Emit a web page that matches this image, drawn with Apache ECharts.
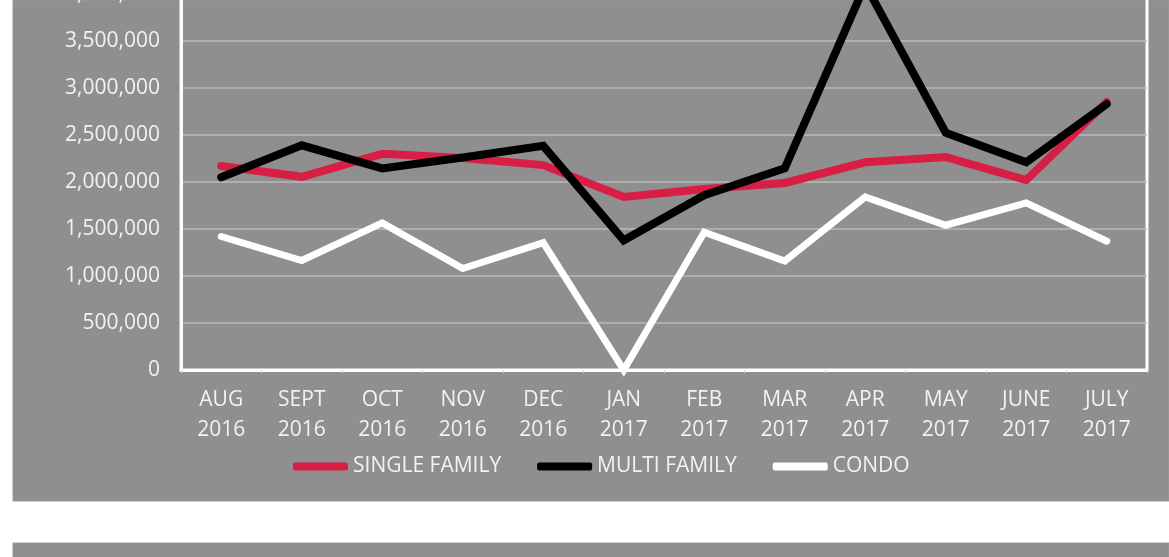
<!DOCTYPE html>
<html>
<head>
<meta charset="utf-8">
<script src="https://cdn.jsdelivr.net/npm/echarts@6/dist/echarts.min.js"></script>
<style>
  html, body { margin: 0; padding: 0; background: #fff; }
  #plot1 { width: 1169px; height: 557px; }
</style>
</head>
<body>
<div id="plot1"></div>
<script>
// values
const months = ['AUG', 'SEPT', 'OCT', 'NOV', 'DEC', 'JAN', 'FEB', 'MAR', 'APR', 'MAY', 'JUNE', 'JULY'];
const years = ['2016', '2016', '2016', '2016', '2016', '2017', '2017', '2017', '2017', '2017', '2017', '2017'];
const singleFamily = [2170000, 2055000, 2300000, 2255000, 2180000, 1840000, 1925000, 1990000, 2210000, 2265000, 2020000, 2850000];
const multiFamily = [2050000, 2390000, 2145000, 2260000, 2385000, 1380000, 1860000, 2145000, 4100000, 2525000, 2210000, 2830000];
const condo = [1420000, 1165000, 1565000, 1080000, 1355000, 0, 1465000, 1160000, 1840000, 1540000, 1777000, 1370000];

const categories = months.map(function (m, i) { return m + '\n' + years[i]; });

const font = '"Open Sans", "DejaVu Sans", sans-serif';
const textColor = '#f2f2f2';

const chartDom = document.getElementById('plot1');
const myChart = echarts.init(chartDom);

function lineSeries(name, data, color, width) {
  return {
    name: name,
    type: 'line',
    data: data,
    showSymbol: false,
    symbol: 'none',
    clip: false,
    color: color,
    lineStyle: { color: color, width: width, cap: 'round', join: 'miter' }
  };
}

const option = {
  backgroundColor: '#fff',
  animation: false,
  graphic: [
    { type: 'rect', z: -10, shape: { x: 13, y: 0, width: 1156, height: 501 },
      style: { fill: '#8f8f8f', stroke: '#9a9a9a', lineWidth: 1 } },
    { type: 'rect', z: -10, shape: { x: 13, y: 543, width: 1156, height: 20 },
      style: { fill: '#8f8f8f', stroke: '#9a9a9a', lineWidth: 1 } }
  ],
  grid: {
    left: 181,
    right: 22,
    top: -53,
    bottom: 187,
    containLabel: false,
    outerBoundsMode: 'none',
    show: true,
    borderColor: '#fff',
    borderWidth: 3,
    backgroundColor: 'transparent'
  },
  legend: {
    left: 288,
    top: 451,
    itemWidth: 55,
    itemHeight: 8,
    itemGap: 36,
    icon: 'roundRect',
    textStyle: { color: textColor, fontFamily: font, fontSize: 21 },
    data: ['SINGLE FAMILY', 'MULTI FAMILY', 'CONDO']
  },
  xAxis: {
    type: 'category',
    data: categories,
    axisLine: { lineStyle: { color: '#fff', width: 3 } },
    axisTick: { show: true, length: 3, lineStyle: { color: '#d0d0d0' } },
    axisLabel: {
      color: textColor,
      fontFamily: font,
      fontSize: 21,
      lineHeight: 30,
      margin: 15
    }
  },
  yAxis: {
    type: 'value',
    min: 0,
    max: 4500000,
    interval: 500000,
    axisLine: { show: true, lineStyle: { color: '#fff', width: 3 } },
    axisTick: { show: false },
    splitLine: { lineStyle: { color: '#b9b9b9', width: 1.5 } },
    axisLabel: {
      color: textColor,
      fontFamily: font,
      fontSize: 21,
      margin: 21,
      formatter: function (v) { return v.toLocaleString('en-US'); }
    }
  },
  series: [
    lineSeries('SINGLE FAMILY', singleFamily, '#d81e44', 8),
    lineSeries('MULTI FAMILY', multiFamily, '#000000', 8),
    lineSeries('CONDO', condo, '#ffffff', 7)
  ]
};

myChart.setOption(option);
</script>
</body>
</html>
